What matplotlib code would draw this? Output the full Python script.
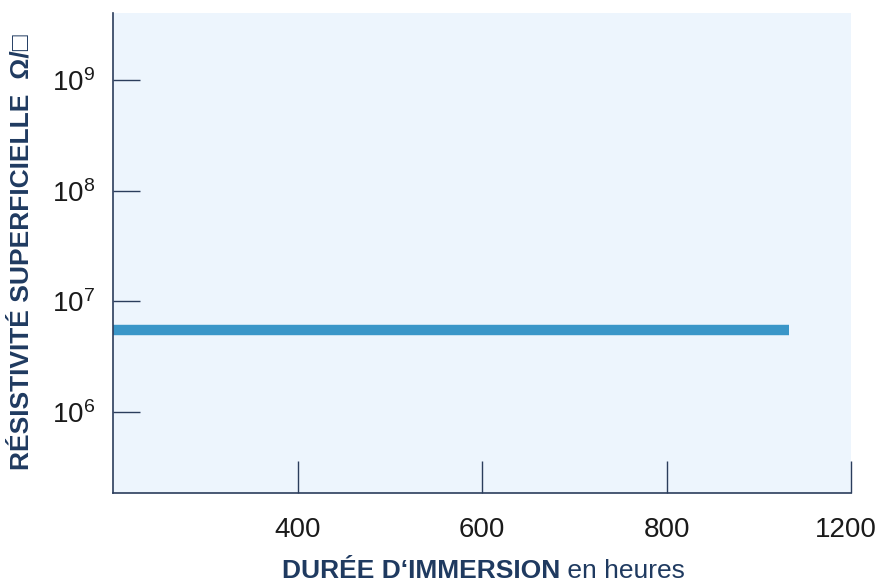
import matplotlib
matplotlib.use("Agg")
import matplotlib.pyplot as plt
import matplotlib.transforms as mtrans
import numpy as np
from matplotlib.ticker import FixedLocator, NullLocator

# Data
hours = [200, 1065]
resistivity = [5.45e6, 5.45e6]
x_ticks = [400, 600, 800, 1200]
x_tick_labels = ["400", "600", "800", "1200"]
y_ticks = [1e6, 1e7, 1e8, 1e9]
y_tick_labels = [r"$10^{6}$", r"$10^{7}$", r"$10^{8}$", r"$10^{9}$"]

FONT = ["Liberation Sans", "DejaVu Sans"]
plt.rcParams["font.family"] = FONT
plt.rcParams["mathtext.fontset"] = "custom"
plt.rcParams["mathtext.rm"] = "Liberation Sans"
plt.rcParams["mathtext.it"] = "Liberation Sans"

navy = "#1f3a60"
spine_col = "#2b3d5c"


# piecewise-linear axis: 200..800 step 200, then 800..1200 one step
def fwd(x):
    x = np.asarray(x, dtype=float)
    return np.where(x <= 800, x / 200.0, 4.0 + (x - 800.0) / 400.0)


def inv(u):
    u = np.asarray(u, dtype=float)
    return np.where(u <= 4, u * 200.0, 800.0 + (u - 4.0) * 400.0)


fig = plt.figure(figsize=(8.8, 5.82), dpi=100)
ax = fig.add_axes([113/880, 1-493/582, (851-113)/880, (493-13)/582])
ax.set_facecolor("#edf5fd")

ax.set_xscale("function", functions=(fwd, inv))
ax.set_yscale("log")

ax.plot(hours, resistivity, color="#3a96c8", lw=7.5, solid_capstyle="butt")

ax.set_xlim(200, 1200)
ax.set_ylim(10**5.265, 10**9.61)

ax.xaxis.set_major_locator(FixedLocator(x_ticks))
ax.set_xticklabels(x_tick_labels)
ax.yaxis.set_major_locator(FixedLocator(y_ticks))
ax.set_yticklabels(y_tick_labels)
ax.yaxis.set_minor_locator(NullLocator())
ax.xaxis.set_minor_locator(NullLocator())

for s in ["top", "right"]:
    ax.spines[s].set_visible(False)
for s in ["left", "bottom"]:
    ax.spines[s].set_color(spine_col)
    ax.spines[s].set_linewidth(1.2)

ax.tick_params(axis="y", direction="in", length=19.5, width=1.0, color=spine_col,
               pad=13, labelsize=20, labelcolor="#1a1a1a")
ax.tick_params(axis="x", direction="in", length=23, width=1.0, color=spine_col,
               pad=17, labelsize=20, labelcolor="#1a1a1a")

# nudge the last x tick label a little left so it stays inside the figure
last = ax.get_xticklabels()[-1]
last.set_transform(last.get_transform() +
                   mtrans.ScaledTranslation(-5/100, 0, fig.dpi_scale_trans))

# Y label
fig.text(22/880, 1-252/582, "RÉSISTIVITÉ SUPERFICIELLE  Ω/□", rotation=90,
         ha="center", va="center", fontsize=19, fontweight="bold", color=navy,
         family=FONT)

# X label (two weights)
t1 = fig.text(560/880, 1-578/582, "DURÉE D‘IMMERSION", ha="right", va="baseline",
              fontsize=19, fontweight="bold", color=navy, family=FONT)
ax.annotate(" en heures", xy=(1, 0), xycoords=t1, ha="left", va="bottom",
            fontsize=19, color=navy, annotation_clip=False, family=FONT)

fig.savefig("out.png", dpi=100)
